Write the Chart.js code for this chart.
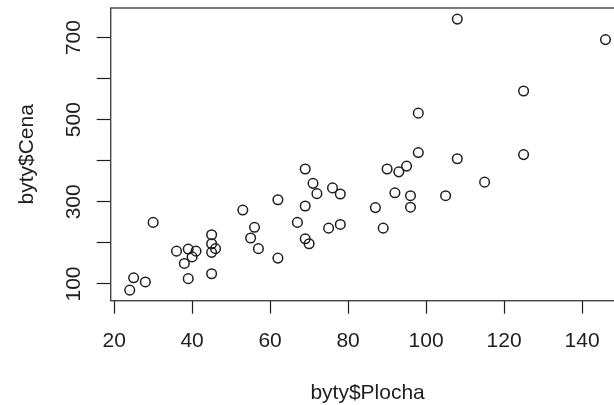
<!DOCTYPE html>
<html>
<head>
<meta charset="utf-8">
<script src="https://cdn.jsdelivr.net/npm/chart.js@4/dist/chart.umd.min.js"></script>
<style>
  html, body { margin: 0; padding: 0; background: #fff; overflow: hidden; }
  #wrap { position: absolute; left: 0; top: 0; width: 640px; height: 405px; }
</style>
</head>
<body>
<div id="wrap"><canvas id="plot" width="640" height="405"></canvas></div>
<script>
  // byty$Plocha vs byty$Cena
  const plocha = [24, 25, 28, 30, 36, 39, 41, 40, 38, 39, 45, 45, 45, 46, 45, 53, 56, 55, 57,
    62, 62, 67, 69, 69, 69, 70, 71, 72, 75, 76, 78, 78, 87, 89, 90, 93, 95, 92, 96, 96, 98, 98,
    105, 108, 146, 125, 125, 108, 115];
  const cena = [85, 115, 105, 250, 180, 185, 180, 166, 150, 113, 220, 198, 177, 186, 125, 280, 238, 212, 186,
    305, 163, 250, 380, 290, 210, 198, 345, 320, 236, 334, 319, 245, 286, 236, 380, 373, 387, 322, 315, 287, 420, 516,
    315, 745, 695, 570, 415, 405, 348];
  const xTicks = [20, 40, 60, 80, 100, 120, 140];
  const yTicks = [100, 200, 300, 400, 500, 600, 700];
  const yLabelled = [100, 300, 500, 700];

  const ink = '#1e1e1e';
  const font = { family: '"Liberation Sans", Arial, sans-serif', size: 21 };

  // R draws a full box around the plot region
  const boxPlugin = {
    id: 'box',
    afterDraw(chart) {
      const a = chart.chartArea, ctx = chart.ctx;
      ctx.save();
      ctx.strokeStyle = '#444';
      ctx.lineWidth = 1.4;
      ctx.strokeRect(a.left, a.top, a.right - a.left, a.bottom - a.top);
      ctx.restore();
    }
  };

  // keep label overhang from pushing the plot region around
  function noPad(s) {
    s.paddingTop = 0; s.paddingBottom = 0; s.paddingLeft = 0; s.paddingRight = 0;
  }

  new Chart(document.getElementById('plot'), {
    type: 'scatter',
    data: {
      datasets: [{
        data: plocha.map((x, i) => ({ x, y: cena[i] })),
        pointStyle: 'circle',
        pointRadius: 4.8,
        pointBorderWidth: 1.5,
        pointBorderColor: ink,
        pointBackgroundColor: 'rgba(0,0,0,0)',
      }],
    },
    options: {
      responsive: false,
      animation: false,
      layout: { padding: { left: 0, right: 15.5, top: 8, bottom: 0 } },
      plugins: { legend: { display: false }, tooltip: { enabled: false } },
      scales: {
        x: {
          type: 'linear',
          min: 19.12,
          max: 150.88,
          afterBuildTicks: (s) => { s.ticks = xTicks.map((v) => ({ value: v })); },
          afterFit: (s) => { s.height = 104.3; noPad(s); },
          grid: { drawOnChartArea: false, tickLength: 13, tickColor: ink, tickWidth: 1.2 },
          border: { display: false },
          ticks: { color: ink, font, padding: 15, maxRotation: 0, autoSkip: false },
          title: { display: true, text: 'byty$Plocha', color: ink, font, padding: { top: 0, bottom: -1 } },
        },
        y: {
          type: 'linear',
          min: 59.3,
          max: 772,
          afterBuildTicks: (s) => { s.ticks = yTicks.map((v) => ({ value: v })); },
          afterFit: (s) => { s.width = 110.7; noPad(s); },
          grid: { drawOnChartArea: false, tickLength: 14, tickColor: ink, tickWidth: 1.2 },
          border: { display: false },
          ticks: {
            color: ink, font, padding: 5, minRotation: 90, maxRotation: 90, crossAlign: 'center',
            autoSkip: false,
            callback: (v) => (yLabelled.includes(v) ? String(v) : ''),
          },
          title: { display: true, text: 'byty$Cena', color: ink, font, padding: { top: 15, bottom: 0 } },
        },
      },
    },
    plugins: [boxPlugin],
  });
</script>
</body>
</html>
